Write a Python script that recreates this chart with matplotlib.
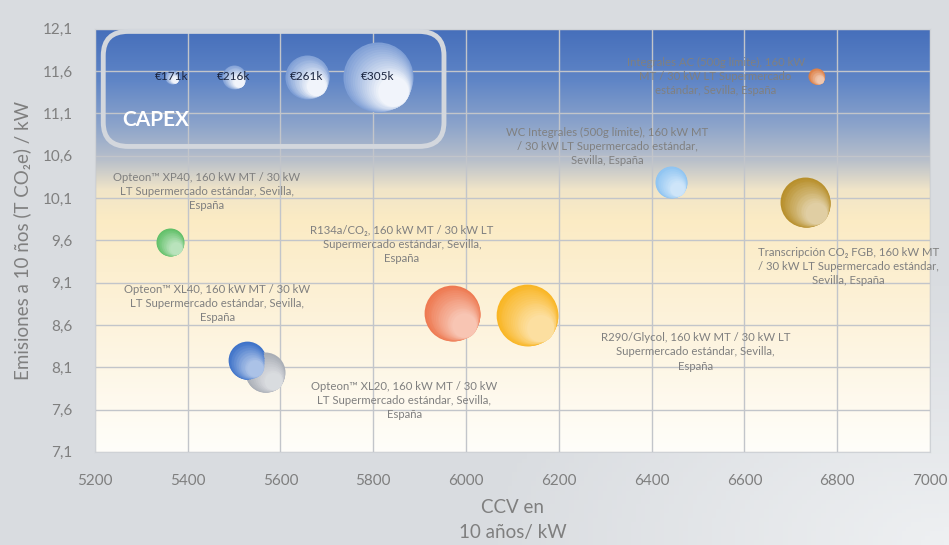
import numpy as np
import matplotlib
matplotlib.use("Agg")
import matplotlib.pyplot as plt
import matplotlib.transforms as mtransforms
from matplotlib.colors import LinearSegmentedColormap, to_rgb
from matplotlib.patches import FancyBboxPatch

plt.rcParams['font.family'] = ['Lato', 'DejaVu Sans']

# data: CCV (x), emissions (y), CAPEX in k€ (bubble size)
names = [
    "Opteon\u2122 XP40, 160 kW MT / 30 kW\nLT Supermercado estándar, Sevilla,\nEspaña",
    "Opteon\u2122 XL40, 160 kW MT / 30 kW\nLT Supermercado estándar, Sevilla,\nEspaña",
    "Opteon\u2122 XL20, 160 kW MT / 30 kW\nLT Supermercado estándar, Sevilla,\nEspaña",
    "R134a/CO\u2082, 160 kW MT / 30 kW LT\nSupermercado estándar, Sevilla,\nEspaña",
    "R290/Glycol, 160 kW MT / 30 kW LT\nSupermercado estándar, Sevilla,\nEspaña",
    "WC Integrales (500g límite), 160 kW MT\n/ 30 kW LT Supermercado estándar,\nSevilla, España",
    "Transcripción CO\u2082 FGB, 160 kW MT\n/ 30 kW LT Supermercado estándar,\nSevilla, España",
    "Integrales AC (500g límite), 160 kW\nMT / 30 kW LT Supermercado\nestándar, Sevilla, España",
]
ccv = [5361, 5527, 5566, 5970, 6131, 6441, 6731, 6755]
emis = [9.58, 8.18, 8.04, 8.74, 8.72, 10.29, 10.05, 11.54]
capex = [225, 247, 252, 281, 291, 234, 271, 180]
colors = ['#5fbf66', '#3f73c9', '#a9aeb6', '#ee7a52', '#f9b625',
          '#8ec4f2', '#b8902c', '#dd7f45']

# label anchor positions (data coords)
label_xy = [(5441, 10.18), (5464, 8.85), (5867, 7.71), (5862, 9.55),
            (6494, 8.28), (6305, 10.71), (6824, 9.29), (6538, 11.54)]

legend_capex = [171, 216, 261, 305]
legend_diam = [14, 24, 44, 70]  # bubble diameter in px for the legend values

xticks = np.arange(5200, 7001, 200)
yticks = np.round(np.arange(7.1, 12.11, 0.5), 1)

fig = plt.figure(figsize=(9.49, 5.45), dpi=100)
fig.patch.set_facecolor('#dcdfe3')

# soft figure background
bg = fig.add_axes([0, 0, 1, 1], zorder=-10)
gx, gy = np.meshgrid(np.linspace(0, 1, 200), np.linspace(0, 1, 120))
glow = np.clip(1 - np.hypot(gx - 1.0, gy - 0.0) / 0.5, 0, 1)
bg_cmap = LinearSegmentedColormap.from_list('bg', ['#d9dce0', '#eef0f2'])
bg.imshow(glow, cmap=bg_cmap, aspect='auto', origin='lower', extent=[0, 1, 0, 1])
bg.axis('off')

ax = fig.add_axes([0.100, 0.171, 0.880, 0.776])
ax.set_xlim(5200, 7000)
ax.set_ylim(7.1, 12.1)

# plot area gradient: blue at the top, pale yellow, white at the bottom
plot_cmap = LinearSegmentedColormap.from_list('plot', [
    (0.0, '#fffefa'), (0.3, '#fdf3dc'), (0.55, '#fbebc4'),
    (0.62, '#f1e5c8'), (0.69, '#b9c0ca'), (0.77, '#8ea5cb'),
    (0.88, '#5f85c6'), (1.0, '#466fbb')])
grad = np.linspace(0, 1, 256).reshape(-1, 1)
ax.imshow(grad, cmap=plot_cmap, aspect='auto', origin='lower',
          extent=[5200, 7000, 7.1, 12.1], zorder=0)

ax.set_xticks(xticks)
ax.set_yticks(yticks)
ax.set_yticklabels([f"{v:.1f}".replace('.', ',') for v in yticks])
ax.tick_params(length=0, labelsize=11, colors='#7f7f7f')
ax.tick_params(axis='x', pad=16)
ax.tick_params(axis='y', pad=16)
ax.grid(True, color='#c2c5ca', lw=1, zorder=1)
for s in ax.spines.values():
    s.set_color('#cfd2d6')

ax.set_xlabel("CCV en\n10 años/ kW", fontsize=13.5, color='#7f7f7f',
              labelpad=8, linespacing=1.55)
ax.set_ylabel("Emisiones a 10 ños (T CO\u2082e) / kW", fontsize=13.5,
              color='#7f7f7f', labelpad=8)


def mix(c, t):
    r = np.array(to_rgb(c))
    return tuple(r + (1 - r) * t)


def bubble(x, y, d, color, transform, z=3, light=0.6):
    # soft 3D shading: stacked circles drifting to the lower right, fading lighter
    n = 16
    r = d / 2
    for i in range(n):
        t = i / n
        dd = d * (1 - 0.6 * t)
        off = mtransforms.offset_copy(transform, fig=fig, x=0.45 * r * t,
                                      y=-0.45 * r * t, units='dots')
        ax.scatter([x], [y], s=(dd * 0.72) ** 2, color=mix(color, light * t),
                   transform=off, lw=0, zorder=z + i * 0.001, clip_on=False)


diam = np.interp(capex, legend_capex, legend_diam)
for x, y, d, c in zip(ccv, emis, diam, colors):
    bubble(x, y, d, c, ax.transData)

for txt, (lx, ly) in zip(names, label_xy):
    ax.text(lx, ly, txt, ha='center', va='center', fontsize=8.2,
            color='#808080', linespacing=1.35, zorder=5)

# CAPEX legend box
box = FancyBboxPatch((0.010, 0.722), 0.408, 0.272, transform=ax.transAxes,
                     boxstyle='round,pad=0,rounding_size=0.03', fc='none',
                     ec='#d3d7dd', lw=3.5, zorder=6, clip_on=False,
                     mutation_aspect=1.9)
ax.add_patch(box)
leg_x = [0.092, 0.166, 0.254, 0.339]
for lx, v, d in zip(leg_x, legend_capex, legend_diam):
    bubble(lx, 0.887, d, '#7f9fd6', ax.transAxes, z=7, light=0.95)
    ax.text(lx, 0.887, f"€{v}k", transform=ax.transAxes, ha='center',
            va='center', fontsize=8.5, color='#1b2540', zorder=8)
ax.text(0.033, 0.785, "CAPEX", transform=ax.transAxes, fontsize=15,
        fontweight='bold', color='white', va='center', zorder=8)

fig.savefig("out.png", dpi=100, facecolor=fig.get_facecolor())
